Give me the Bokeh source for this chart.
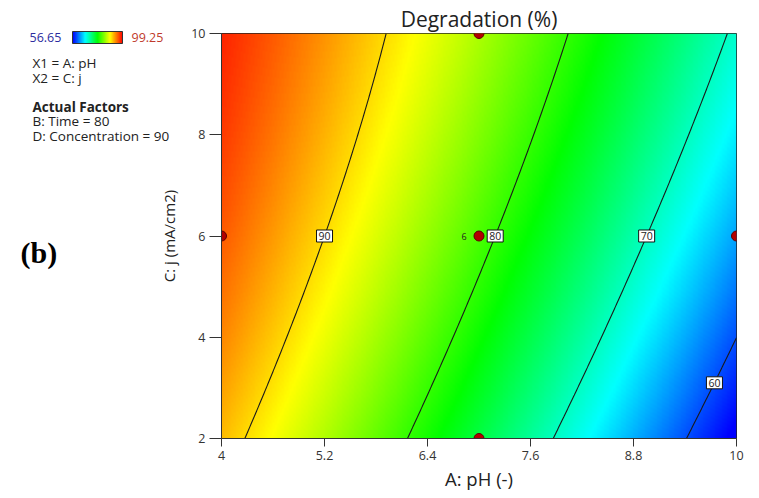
import numpy as np
from bokeh.plotting import figure
from bokeh.models import Label, LinearColorMapper, FixedTicker, GridBox
from bokeh.core.properties import value
from bokeh.embed import file_html
from bokeh.resources import INLINE

# Quadratic response-surface model for Degradation (%) in actual units:
# D = b0 + bA*pH + bC*j + bAC*pH*j + bAA*pH^2 + bCC*j^2
coef_terms = ["b0", "A", "C", "AC", "A2", "C2"]
coef_values = [106.56, -3.793, 0.86, 0.145, -0.17, -0.0534]

# axis ticks
ph_ticks = [4, 5.2, 6.4, 7.6, 8.8, 10]
ph_tick_labels = ["4", "5.2", "6.4", "7.6", "8.8", "10"]
j_ticks = [2, 4, 6, 8, 10]
j_tick_labels = ["2", "4", "6", "8", "10"]

# contour levels and the current density at which each one is labelled
contour_levels = [60, 70, 80, 90]
contour_label_j = [3.1, 6, 6, 6]

# design points shown on this slice
design_ph = [7, 7, 4, 10, 7]
design_j = [10, 6, 6, 6, 2]

# colour scale range of the response
resp_min, resp_max = 56.65, 99.25

# factor summary text
factor_lines = ["X1 = A: pH", "X2 = C: j"]
actual_title = "Actual Factors"
actual_lines = ["B: Time = 80", "D: Concentration = 90"]
panel_tag = "(b)"

b0, bA, bC, bAC, bAA, bCC = coef_values


def degradation(a, c):
    return b0 + bA * a + bC * c + bAC * a * c + bAA * a ** 2 + bCC * c ** 2


xg = np.linspace(4, 10, 301)
yg = np.linspace(2, 10, 401)
XX, YY = np.meshgrid(xg, yg)
Z = degradation(XX, YY)

# blue -> cyan -> green -> yellow -> red ramp
stops = np.array([[0, 0, 255], [0, 255, 255], [0, 255, 0], [255, 255, 0], [255, 0, 0]], float)
t = np.linspace(0, 1, 256)
pos = np.linspace(0, 1, len(stops))
palette = []
for ti in t:
    rgb = [np.interp(ti, pos, stops[:, k]) for k in range(3)]
    palette.append("#%02x%02x%02x" % tuple(int(round(v)) for v in rgb))
mapper = LinearColorMapper(palette=palette, low=resp_min, high=resp_max)

W, H = 759, 498
L, R, T, B = 221, 23, 33, 60
p = figure(width=W, height=H, x_range=(4, 10), y_range=(2, 10),
           output_backend="svg", toolbar_location=None,
           min_border_left=L, min_border_right=R, min_border_top=T, min_border_bottom=B)
p.frame_align = False
p.background_fill_color = "white"
p.border_fill_color = "white"
p.outline_line_color = "#222222"
p.grid.visible = False

p.title.text = "Degradation (%)"
p.title.align = "center"
p.title.text_font = "Open Sans"
p.title.text_font_size = "21px"
p.title.text_font_style = "normal"
p.title.text_color = "#222222"
p.title.standoff = 1

p.image(image=[Z], x=4, y=2, dw=6, dh=8, color_mapper=mapper, level="image")
p.contour(x=xg, y=yg, z=Z, levels=contour_levels, line_color="#1a1a1a", line_width=1.1)

# contour value tags, placed where each level crosses its label line
for lev, jj in zip(contour_levels, contour_label_j):
    a2 = bAA
    a1 = bA + bAC * jj
    a0 = b0 + bC * jj + bCC * jj ** 2 - lev
    roots = [r.real for r in np.roots([a2, a1, a0]) if abs(r.imag) < 1e-9 and 4 <= r.real <= 10]
    p.add_layout(Label(x=roots[0], y=jj, text=str(lev), text_align="center",
                       text_baseline="middle", text_font_size="10.5px", text_font="Open Sans",
                       text_color="#222222", background_fill_color="white",
                       border_line_color="#111111", border_line_width=1, padding=2))

p.scatter(design_ph, design_j, size=10, fill_color="#b30000", line_color="#5c0000", line_width=1)
p.add_layout(Label(x=7, y=6, x_offset=-15, text="6", text_font_size="9px", text_font="Open Sans",
                   text_align="center", text_baseline="middle", text_color="#222222"))

# axes
for ax in (p.xaxis[0], p.yaxis[0]):
    ax.major_label_text_font = "Open Sans"
    ax.major_label_text_font_size = "12.5px"
    ax.major_label_text_color = "#333333"
    ax.axis_label_text_font = "Open Sans"
    ax.axis_label_text_font_style = "normal"
    ax.axis_label_text_color = "#222222"
    ax.axis_line_color = "#333333"
    ax.major_tick_line_color = "#333333"
    ax.minor_tick_line_color = None
    ax.major_tick_in = 0
p.xaxis.ticker = FixedTicker(ticks=ph_ticks)
p.xaxis.major_label_overrides = dict(zip(ph_ticks, ph_tick_labels))
p.xaxis.major_tick_out = 8
p.xaxis.major_label_standoff = 4
p.xaxis.axis_label = "A: pH (-)"
p.xaxis.axis_label_text_font_size = "18.5px"
p.xaxis.axis_label_standoff = 3
p.yaxis.ticker = FixedTicker(ticks=j_ticks)
p.yaxis.major_label_overrides = dict(zip(j_ticks, j_tick_labels))
p.yaxis.major_tick_out = 12
p.yaxis.major_label_standoff = 4
p.yaxis.axis_label = "C: j (mA/cm2)"
p.yaxis.axis_label_text_font_size = "15px"
p.yaxis.axis_label_standoff = 9

# transparent overlay canvas (pixel coordinates, y down) for the side panel
side = figure(width=W, height=H, x_range=(0, W), y_range=(H, 0), x_axis_type=None,
              y_axis_type=None, output_backend="svg", toolbar_location=None, min_border=0)
side.frame_align = False
side.grid.visible = False
side.outline_line_color = None
side.background_fill_alpha = 0
side.border_fill_alpha = 0

font = value("Open Sans")
side.text(x=[29], y=[37], text=[f"{resp_min:.2f}"], text_font=font, text_font_size="12.5px",
          text_baseline="middle", text_color="#2b2b9e")
side.text(x=[131], y=[37], text=[f"{resp_max:.2f}"], text_font=font, text_font_size="12.5px",
          text_baseline="middle", text_color="#c0392b")
ramp = np.linspace(resp_min, resp_max, 200)[None, :]
side.image(image=[ramp], x=72, y=31, dw=50, dh=12, color_mapper=mapper)
side.quad(left=72, right=122, top=31, bottom=43, fill_color=None, line_color="#333333", line_width=1)

side.text(x=[32] * len(factor_lines), y=[62, 77], text=factor_lines, text_font=font,
          text_font_size="13.5px", text_baseline="middle", text_color="#222222")
side.text(x=[32], y=[106], text=[actual_title], text_font=font, text_font_size="13.5px",
          text_font_style="bold", text_baseline="middle", text_color="#222222")
side.text(x=[32] * len(actual_lines), y=[120, 135], text=actual_lines, text_font=font,
          text_font_size="13.5px", text_baseline="middle", text_color="#222222")
side.text(x=[20], y=[252], text=[panel_tag], text_font=value("Liberation Serif"),
          text_font_size="30px", text_font_style="bold", text_baseline="middle", text_color="black")

layout = GridBox(children=[(p, 0, 0), (side, 0, 0)])
open("out.html", "w").write(file_html(layout, INLINE))
